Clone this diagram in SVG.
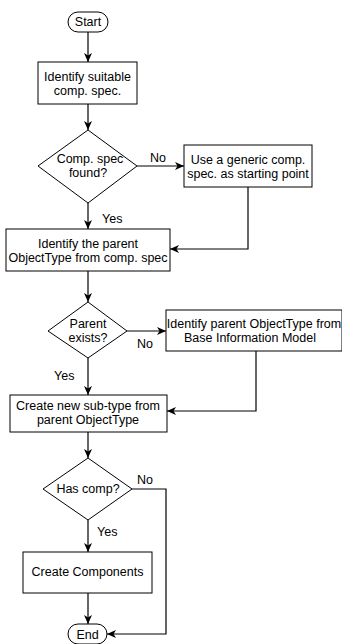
<svg xmlns="http://www.w3.org/2000/svg" width="342" height="644" viewBox="0 0 342 644">
  <style>
    .shape { fill: #ffffff; stroke: #000000; stroke-width: 1; }
    .edge { fill: none; stroke: #000000; stroke-width: 1.2; marker-end: url(#arrow); }
    text { font-family: "Liberation Sans", Arial, sans-serif; font-size: 12.5px; fill: #000000; text-anchor: middle; }
    .lbl { text-anchor: start; }
  </style>
  <defs>
    <marker id="arrow" markerUnits="userSpaceOnUse" markerWidth="10" markerHeight="10" viewBox="0 0 10 10" refX="9" refY="5" orient="auto">
      <path d="M0,1 L9,5 L0,9 L2.5,5 z" fill="#000000"/>
    </marker>
  </defs>
  <rect width="342" height="644" fill="#ffffff"/>

  <!-- connectors -->
  <g id="connectors">
    <path class="edge" d="M88,32 L88,62"/>
    <path class="edge" d="M88,104 L88,130"/>
    <path class="edge" d="M137,166 L184,166"/>
    <path class="edge" d="M88,203 L88,229"/>
    <path class="edge" d="M248,187 L248,249 L170,249"/>
    <path class="edge" d="M88,271 L88,302"/>
    <path class="edge" d="M127,331 L166,331"/>
    <path class="edge" d="M88,358 L88,395"/>
    <path class="edge" d="M256,351 L256,411 L167,411"/>
    <path class="edge" d="M88,432 L88,458"/>
    <path class="edge" d="M132,489 L166,489 L166,634 L107,634"/>
    <path class="edge" d="M88,520 L88,552"/>
    <path class="edge" d="M88,593 L88,624"/>
    <text class="lbl" x="150" y="162">No</text>
    <text class="lbl" x="102" y="223">Yes</text>
    <text class="lbl" x="137" y="348">No</text>
    <text class="lbl" x="54" y="380">Yes</text>
    <text class="lbl" x="137" y="484">No</text>
    <text class="lbl" x="97" y="536">Yes</text>
  </g>

  <g id="start">
    <rect class="shape" x="68" y="12" width="40" height="20" rx="10" ry="10"/>
    <text x="88" y="26">Start</text>
  </g>

  <g id="identify-spec">
    <rect class="shape" x="38" y="62" width="99" height="42"/>
    <text x="87.5" y="81">Identify suitable</text>
    <text x="87.5" y="95">comp. spec.</text>
  </g>

  <g id="spec-found">
    <polygon class="shape" points="88,130 137,166 88,203 38,166"/>
    <text x="90" y="163">Comp. spec</text>
    <text x="88" y="177">found?</text>
  </g>

  <g id="generic-spec">
    <rect class="shape" x="184" y="145" width="128" height="42"/>
    <text x="248" y="164">Use a generic comp.</text>
    <text x="248" y="178">spec. as starting point</text>
  </g>

  <g id="identify-parent">
    <rect class="shape" x="6" y="229" width="164" height="42"/>
    <text x="88" y="248">Identify the parent</text>
    <text x="88" y="262">ObjectType from comp. spec</text>
  </g>

  <g id="parent-exists">
    <polygon class="shape" points="88,302 127,331 88,358 48,331"/>
    <text x="88" y="328">Parent</text>
    <text x="88" y="342">exists?</text>
  </g>

  <g id="parent-from-bim">
    <rect class="shape" x="166" y="310" width="176" height="41"/>
    <text x="254" y="328">Identify parent ObjectType from</text>
    <text x="250" y="342">Base Information Model</text>
  </g>

  <g id="create-subtype">
    <rect class="shape" x="10" y="395" width="157" height="37"/>
    <text x="88" y="410">Create new sub-type from</text>
    <text x="88" y="424">parent ObjectType</text>
  </g>

  <g id="has-comp">
    <polygon class="shape" points="88,458 132,489 88,520 43,489"/>
    <text x="88" y="493">Has comp?</text>
  </g>

  <g id="create-components">
    <rect class="shape" x="23" y="552" width="129" height="41"/>
    <text x="87.5" y="576">Create Components</text>
  </g>

  <g id="end">
    <rect class="shape" x="68" y="624" width="39" height="20" rx="10" ry="10"/>
    <text x="87.5" y="639">End</text>
  </g>
</svg>
